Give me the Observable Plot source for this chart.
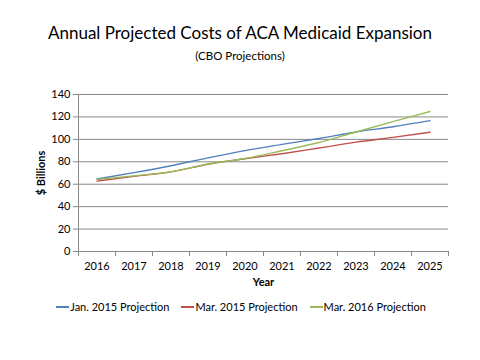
<!DOCTYPE html>
<html><head><meta charset="utf-8">
<script src="https://cdn.jsdelivr.net/npm/d3@7"></script>
<script src="https://cdn.jsdelivr.net/npm/@observablehq/plot@0.6"></script>
<style>
body{margin:0;background:#fff;font-family:Lato,"Open Sans",sans-serif;}
#wrap{position:relative;width:480px;height:360px;overflow:hidden;background:#fff;}
#title{position:absolute;top:23px;left:0;width:480px;text-align:center;font-size:17px;color:#000;line-height:20px;}
#sub{position:absolute;top:49px;left:0;width:480px;text-align:center;font-size:11.5px;color:#000;line-height:14px;}
#chart{position:absolute;top:75px;left:0;}
#legend{position:absolute;top:300px;left:0;width:482px;display:flex;justify-content:center;gap:12px;font-size:11px;line-height:14px;color:#000;}
.item{display:flex;align-items:center;}
.sw{width:13px;height:1.5px;margin-right:1px;}
</style></head>
<body><div id="wrap">
<div id="title">Annual Projected Costs of ACA Medicaid Expansion</div>
<div id="sub">(CBO Projections)</div>
<div id="chart"></div>
<div id="legend"></div>
</div>
<script>
const years = [2016, 2017, 2018, 2019, 2020, 2021, 2022, 2023, 2024, 2025];
const jan2015 = [64.6, 70.3, 76.5, 83.5, 90.0, 95.5, 100.8, 106.6, 111.3, 116.7];
const mar2015 = [62.8, 67.0, 71.0, 77.8, 82.7, 87.2, 92.3, 97.5, 101.8, 106.3];
const mar2016 = [64.2, 67.4, 71.1, 78.0, 82.9, 89.8, 97.2, 106.6, 115.8, 124.8];
const seriesNames = ["Jan. 2015 Projection", "Mar. 2015 Projection", "Mar. 2016 Projection"];
const seriesColors = ["#4F81BD", "#C0504D", "#9BBB59"];
const yTicks = [0, 20, 40, 60, 80, 100, 120, 140];

const seriesValues = [jan2015, mar2015, mar2016];
const data = [];
seriesNames.forEach((name, s) => years.forEach((yr, i) => data.push({year: yr, value: seriesValues[s][i], series: name})));
const boundaries = years.map(y => y - 0.5).concat([years[years.length - 1] + 0.5]);

const chart = Plot.plot({
  width: 480, height: 220,
  marginLeft: 78, marginRight: 32, marginTop: 19, marginBottom: 44,
  style: {fontFamily: "Lato, 'Open Sans', sans-serif", fontSize: "11px", color: "#000", background: "transparent", overflow: "visible"},
  x: {domain: [boundaries[0], boundaries[boundaries.length - 1]], axis: null},
  y: {domain: [0, 140], axis: null},
  color: {domain: seriesNames, range: seriesColors},
  marks: [
    Plot.gridY(yTicks, {stroke: "#878787", strokeOpacity: 1, strokeWidth: 1}),
    Plot.ruleX([boundaries[0]], {stroke: "#878787", strokeWidth: 1}),
    Plot.axisY(yTicks, {tickSize: 5, tickPadding: 3, stroke: "#878787", label: null, fill: "#000"}),
    Plot.axisX(boundaries, {tickSize: 5, tickFormat: () => "", stroke: "#878787", label: null}),
    Plot.axisX(years, {tickSize: 0, tickPadding: 11, tickFormat: d => String(d), label: null, fill: "#000"}),
    Plot.lineY(data, {x: "year", y: "value", stroke: "series", strokeWidth: 1.4, curve: "monotone-x"}),
    Plot.text(["$ Billions"], {frameAnchor: "left", dx: -37, rotate: -90, fontWeight: "bold", fontSize: 11, textAnchor: "middle", fill: "#000"}),
    Plot.text(["Year"], {frameAnchor: "bottom", dy: 34, fontWeight: "bold", fontSize: 11, textAnchor: "middle", fill: "#000"})
  ]
});
document.getElementById("chart").appendChild(chart);

const legend = document.getElementById("legend");
seriesNames.forEach((name, i) => {
  const it = document.createElement("div");
  it.className = "item";
  const sw = document.createElement("span");
  sw.className = "sw";
  sw.style.background = seriesColors[i];
  const t = document.createElement("span");
  t.textContent = name;
  it.appendChild(sw); it.appendChild(t);
  legend.appendChild(it);
});
</script>
</body></html>
